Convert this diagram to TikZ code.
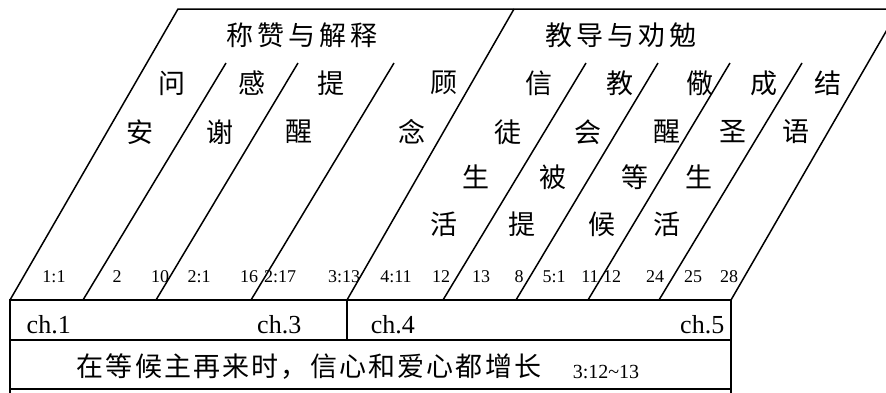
\documentclass[tikz,border=0pt]{standalone}
\usepackage{fontspec}
\setmainfont{Liberation Serif}
\newfontfamily\cjk{Noto Sans CJK SC}
\newfontfamily\cjktitle[LetterSpace=15]{Noto Sans CJK SC}
\newfontfamily\cjkline[LetterSpace=8]{Noto Sans CJK SC}
\tikzset{
	title/.style={font=\cjktitle\fontsize{27}{27}\selectfont, inner sep=0pt},
	zi/.style={font=\cjk\fontsize{27}{27}\selectfont, inner sep=0pt},
	verse/.style={font=\fontsize{18}{18}\selectfont, inner sep=0pt, anchor=base},
	chap/.style={font=\fontsize{26}{26}\selectfont, inner sep=0pt},
	theme/.style={font=\cjkline\fontsize{27}{27}\selectfont, inner sep=0pt}
}
\begin{document}
\begin{tikzpicture}[x=1pt, y=-1pt, line width=1.5pt]
	\useasboundingbox ( 0, 0 ) rectangle ( 886, 392 );

	% parallelogram
	\draw ( 10, 300 ) -- ( 178, 9 ) -- ( 900, 9 );
	\draw ( 731, 300 ) -- ( 899, 9 );
	\draw ( 347, 300 ) -- ( 514, 9 );

	% short dividers
	\draw ( 83, 300 ) -- ( 226, 63 );
	\draw ( 156, 300 ) -- ( 298, 63 );
	\draw ( 251, 300 ) -- ( 394, 63 );
	\draw ( 443, 300 ) -- ( 586, 63 );
	\draw ( 516, 300 ) -- ( 658, 63 );
	\draw ( 588, 300 ) -- ( 730, 63 );
	\draw ( 659, 300 ) -- ( 802, 63 );

	% table
	\draw ( 10, 300 ) rectangle ( 731, 340 );
	\draw ( 347, 300 ) -- ( 347, 340 );
	\draw ( 10, 340 ) -- ( 10, 394 );
	\draw ( 731, 340 ) -- ( 731, 394 );
	\draw ( 10, 389 ) -- ( 731, 389 );

	% headings
	\node [title] (praise) at ( 302, 35 ) {称赞与解释};
	\node [title] (exhort) at ( 621, 35 ) {教导与劝勉};

	% row 1
	\node [zi] (wen) at ( 172, 83 ) {问};
	\node [zi] (gan) at ( 252, 83 ) {感};
	\node [zi] (ti) at ( 331, 83 ) {提};
	\node [zi] (gu) at ( 444, 83 ) {顾};
	\node [zi] (xin) at ( 539, 83 ) {信};
	\node [zi] (jiao) at ( 620, 83 ) {教};
	\node [zi] (jing) at ( 700, 83 ) {儆};
	\node [zi] (cheng) at ( 764, 83 ) {成};
	\node [zi] (jie) at ( 828, 83 ) {结};

	% row 2
	\node [zi] (an) at ( 140, 132 ) {安};
	\node [zi] (xie) at ( 220, 132 ) {谢};
	\node [zi] (xing) at ( 299, 132 ) {醒};
	\node [zi] (nian) at ( 412, 132 ) {念};
	\node [zi] (tu) at ( 508, 132 ) {徒};
	\node [zi] (hui) at ( 588, 132 ) {会};
	\node [zi] (xing2) at ( 667, 132 ) {醒};
	\node [zi] (sheng) at ( 733, 132 ) {圣};
	\node [zi] (yu) at ( 796, 132 ) {语};

	% row 3
	\node [zi] (sheng1) at ( 476, 177 ) {生};
	\node [zi] (bei) at ( 553, 177 ) {被};
	\node [zi] (deng) at ( 635, 177 ) {等};
	\node [zi] (sheng2) at ( 699, 177 ) {生};

	% row 4
	\node [zi] (huo1) at ( 444, 224 ) {活};
	\node [zi] (ti2) at ( 522, 224 ) {提};
	\node [zi] (hou) at ( 602, 224 ) {候};
	\node [zi] (huo2) at ( 667, 224 ) {活};

	% verses
	\node [verse] (v1) at ( 54, 282 ) {1:1};
	\node [verse] (v2) at ( 117, 282 ) {2};
	\node [verse] (v3) at ( 160, 282 ) {10};
	\node [verse] (v4) at ( 199, 282 ) {2:1};
	\node [verse] (v5) at ( 249, 282 ) {16};
	\node [verse] (v6) at ( 280, 282 ) {2:17};
	\node [verse] (v7) at ( 344, 282 ) {3:13};
	\node [verse] (v8) at ( 396, 282 ) {4:11};
	\node [verse] (v9) at ( 441, 282 ) {12};
	\node [verse] (v10) at ( 481, 282 ) {13};
	\node [verse] (v11) at ( 519, 282 ) {8};
	\node [verse] (v12) at ( 554, 282 ) {5:1};
	\node [verse] (v13) at ( 590, 282 ) {11};
	\node [verse] (v14) at ( 612, 282 ) {12};
	\node [verse] (v15) at ( 655, 282 ) {24};
	\node [verse] (v16) at ( 693, 282 ) {25};
	\node [verse] (v17) at ( 729, 282 ) {28};

	% chapters
	\node [chap, anchor=base west] (ch1) at ( 26, 333 ) {ch.1};
	\node [chap, anchor=base east] (ch3) at ( 302, 333 ) {ch.3};
	\node [chap, anchor=base west] (ch4) at ( 370, 333 ) {ch.4};
	\node [chap, anchor=base east] (ch5) at ( 725, 333 ) {ch.5};

	% theme
	\node [theme] (growth) at ( 309, 367 ) {在等候主再来时，信心和爱心都增长};
	\node [verse, anchor=base west, font=\fontsize{20}{20}\selectfont] (ref) at ( 572, 378 ) {3:12\textasciitilde13};
\end{tikzpicture}
\end{document}
